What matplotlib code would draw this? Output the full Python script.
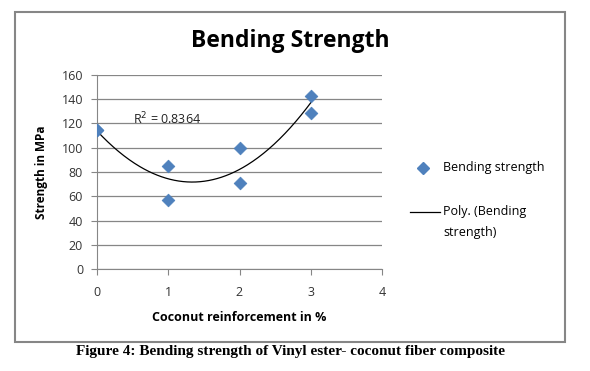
import matplotlib.pyplot as plt
import numpy as np
from matplotlib.patches import Rectangle
from matplotlib.lines import Line2D

# reinforcement (%) and bending strength (MPa)
reinforcement = [0, 0, 1, 1, 2, 2, 3, 3]
strength = [115, 115, 85, 57, 100, 71, 143, 129]
xticks = [0, 1, 2, 3, 4]
yticks = [0, 20, 40, 60, 80, 100, 120, 140, 160]

fig = plt.figure(figsize=(5.9, 3.71), dpi=100)

# chart frame
fig.patches.append(Rectangle((15/590, 1-342/371), 550/590, 330/371,
                             transform=fig.transFigure, fill=False,
                             edgecolor='#868686', linewidth=1.5))

ax = fig.add_axes([97/590, 1-269/371, 285/590, 194/371])

coef = np.polyfit(reinforcement, strength, 2)
xs = np.linspace(0, 3, 200)
ax.plot(xs, np.polyval(coef, xs), color='black', linewidth=0.9, zorder=2)
ax.scatter(reinforcement, strength, marker='D', s=42, color='#4F81BD',
           edgecolor='#4A7EBB', linewidth=0.5, zorder=3)

ax.text(0.5, 123.5, 'R$^2$ = 0.8364', fontsize=9, family='Open Sans',
        color='#222222', va='center')

ax.set_xlim(0, 4)
ax.set_ylim(0, 160)
ax.set_xticks(xticks)
ax.set_yticks(yticks)
for lab in ax.get_xticklabels() + ax.get_yticklabels():
    lab.set_family('Open Sans')
    lab.set_fontsize(9)
    lab.set_color('#333333')
ax.tick_params(axis='both', length=4, color='#868686', width=0.8)
ax.tick_params(axis='x', direction='out', pad=8)
ax.tick_params(axis='y', pad=6)
ax.grid(axis='y', color='#868686', linewidth=0.9)
ax.set_axisbelow(True)
for side in ['top', 'right']:
    ax.spines[side].set_visible(False)
ax.spines['left'].set_color('#868686')
ax.spines['bottom'].set_color('#868686')

ax.set_xlabel('Coconut reinforcement in %', fontsize=9, fontweight='bold',
              family='Open Sans', labelpad=9)
ax.set_ylabel('Strength in MPa', fontsize=8.5, fontweight='bold',
              family='Open Sans', labelpad=10)

fig.text(290/590, 1-41/371, 'Bending Strength', fontsize=16.5, fontweight='bold',
         family='Open Sans', ha='center', va='center')

# legend, laid out by hand like the spreadsheet one
fig.add_artist(Line2D([423/590], [1-168/371], marker='D', linestyle='none',
                      color='#4F81BD', markersize=6, transform=fig.transFigure))
fig.text(443/590, 1-168/371, 'Bending strength', fontsize=9, family='Open Sans',
         va='center')
fig.add_artist(Line2D([410/590, 440/590], [1-212/371, 1-212/371], color='black',
                      linewidth=0.9, transform=fig.transFigure))
fig.text(443/590, 1-212/371, 'Poly. (Bending', fontsize=9, family='Open Sans',
         va='center')
fig.text(443/590, 1-233/371, 'strength)', fontsize=9, family='Open Sans',
         va='center')

fig.text(290/590, 1-352/371,
         'Figure 4: Bending strength of Vinyl ester- coconut fiber composite',
         fontsize=11, fontweight='bold', family='Liberation Serif',
         ha='center', va='center')

plt.savefig('out.png', dpi=100)
